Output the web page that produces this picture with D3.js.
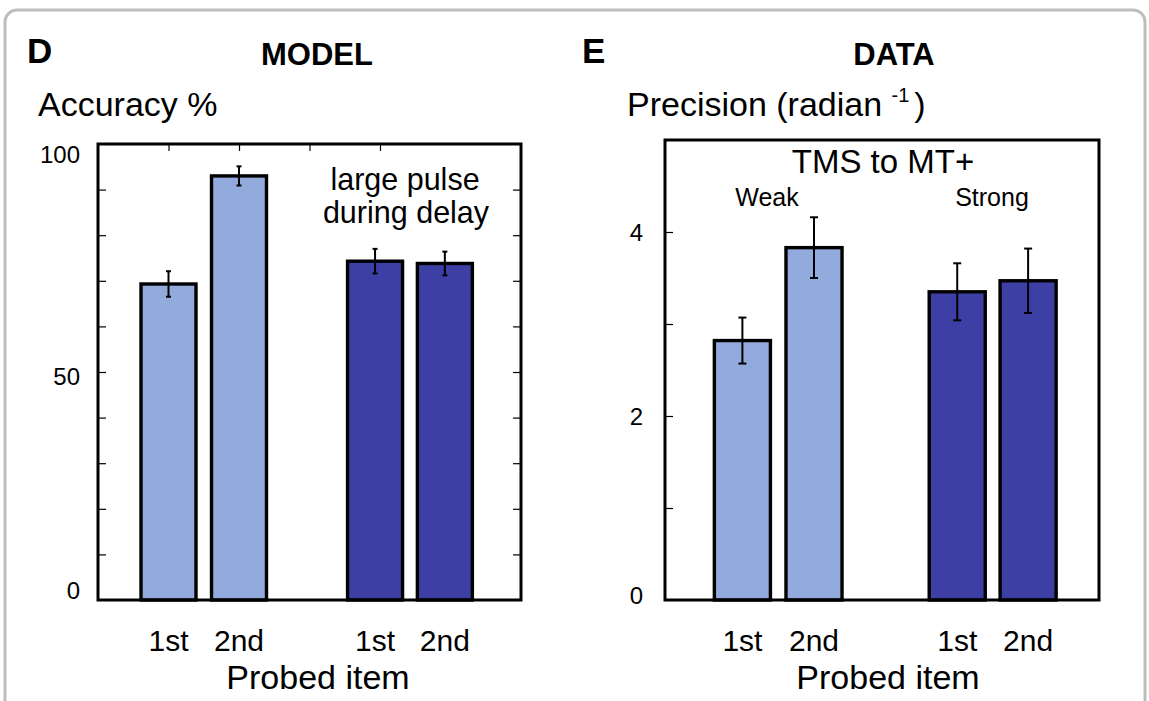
<!DOCTYPE html>
<html>
<head>
<meta charset="utf-8">
<script src="https://cdn.jsdelivr.net/npm/d3@7"></script>
<style>
  html, body { margin: 0; padding: 0; background: #fff; }
  svg { display: block; font-family: "Liberation Sans", Arial, Helvetica, sans-serif; }
</style>
</head>
<body>
<svg id="fig" width="1149" height="701"></svg>
<script>
// Panel D — model accuracy (%)
const modelLabels = ["1st", "2nd", "1st", "2nd"];
const modelPos = [1, 2, 3.93, 4.92];
const modelMean = [69.3, 93.0, 74.3, 73.8];
const modelErr = [2.8, 2.1, 2.7, 2.6];
const modelGroup = ["weak", "weak", "strong", "strong"];
const modelYTicks = [0, 50, 100];

// Panel E — data precision (radian^-1)
const dataLabels = ["1st", "2nd", "1st", "2nd"];
const dataPos = [1.07, 2.06, 4.04, 5.02];
const dataMean = [2.82, 3.83, 3.35, 3.47];
const dataErr = [0.25, 0.33, 0.31, 0.35];
const dataGroup = ["weak", "weak", "strong", "strong"];
const dataYTicks = [0, 2, 4];

const fill = { weak: "#93abdc", strong: "#3d3fa5" };

const svg = d3.select("#fig");

// rounded grey card outline, open at the bottom
const card = d3.path();
card.moveTo(5, 705);
card.lineTo(5, 22);
card.arcTo(5, 10, 17, 10, 12);
card.lineTo(1133, 10);
card.arcTo(1145, 10, 1145, 22, 12);
card.lineTo(1145, 705);
svg.append("path").attr("d", card.toString())
  .attr("fill", "none").attr("stroke", "#bdbdbd").attr("stroke-width", 3);

function drawPanel(cfg) {
  const x = d3.scaleLinear().domain([0, 6]).range([cfg.left, cfg.right]);
  const y = d3.scaleLinear().domain(cfg.yDomain).range([cfg.bottom, cfg.top]);
  const g = svg.append("g");
  const bw = x(cfg.barWidth) - x(0);

  // minor ticks inside the frame
  g.append("g").attr("transform", `translate(${cfg.left},0)`)
    .call(d3.axisRight(y).tickValues(cfg.minorTicks).tickSize(8).tickFormat(""))
    .call(s => s.select(".domain").remove())
    .selectAll("line").attr("stroke", "#000").attr("stroke-width", 1.2);
  if (cfg.rightTicks) {
    g.append("g").attr("transform", `translate(${cfg.right},0)`)
      .call(d3.axisLeft(y).tickValues(cfg.minorTicks).tickSize(8).tickFormat(""))
      .call(s => s.select(".domain").remove())
      .selectAll("line").attr("stroke", "#000").attr("stroke-width", 1.2);
  }
  if (cfg.topTicks) {
    g.append("g").attr("transform", `translate(0,${cfg.top})`)
      .call(d3.axisBottom(x).tickValues(cfg.topTicks).tickSize(7).tickFormat(""))
      .call(s => s.select(".domain").remove())
      .selectAll("line").attr("stroke", "#000").attr("stroke-width", 1.2);
  }

  // y tick labels
  g.selectAll("text.ylab").data(cfg.yTicks).join("text")
    .attr("class", "ylab")
    .attr("x", cfg.left - cfg.labelGap)
    .attr("y", d => y(d) + cfg.labelShift(d))
    .attr("text-anchor", "end").attr("dominant-baseline", "central")
    .attr("font-size", 24).text(d => d);

  // bars
  g.selectAll("rect.bar").data(cfg.mean).join("rect")
    .attr("class", "bar")
    .attr("x", (d, i) => x(cfg.pos[i]) - bw / 2)
    .attr("width", bw)
    .attr("y", d => y(d))
    .attr("height", d => y(0) - y(d))
    .attr("fill", (d, i) => fill[cfg.group[i]])
    .attr("stroke", "#000").attr("stroke-width", 3.4);

  // error bars
  const eb = g.selectAll("g.err").data(cfg.mean).join("g").attr("class", "err")
    .attr("stroke", "#000").attr("stroke-width", 2);
  eb.append("line")
    .attr("x1", (d, i) => x(cfg.pos[i])).attr("x2", (d, i) => x(cfg.pos[i]))
    .attr("y1", (d, i) => y(d + cfg.err[i])).attr("y2", (d, i) => y(d - cfg.err[i]));
  [1, -1].forEach(sgn => {
    eb.append("line")
      .attr("x1", (d, i) => x(cfg.pos[i]) - cfg.cap).attr("x2", (d, i) => x(cfg.pos[i]) + cfg.cap)
      .attr("y1", (d, i) => y(d + sgn * cfg.err[i])).attr("y2", (d, i) => y(d + sgn * cfg.err[i]));
  });

  // frame
  g.append("rect")
    .attr("x", cfg.left).attr("y", cfg.top)
    .attr("width", cfg.right - cfg.left).attr("height", cfg.bottom - cfg.top)
    .attr("fill", "none").attr("stroke", "#000").attr("stroke-width", 3);

  // category labels
  g.selectAll("text.cat").data(cfg.labels).join("text")
    .attr("class", "cat")
    .attr("x", (d, i) => x(cfg.pos[i]))
    .attr("y", 651)
    .attr("text-anchor", "middle").attr("font-size", 30).text(d => d);

  g.append("text")
    .attr("x", cfg.xTitleX).attr("y", 689)
    .attr("text-anchor", "middle").attr("font-size", 34).text("Probed item");

  return { x, y, g };
}

// Panel D
drawPanel({
  left: 98, right: 521, top: 144, bottom: 600,
  yDomain: [0, 100], yTicks: modelYTicks,
  minorTicks: d3.range(10, 100, 10), rightTicks: true, topTicks: [1, 2, 3, 4],
  labelGap: 18, labelShift: d => d === 0 ? -10 : d === 100 ? 10 : 4,
  barWidth: 0.78, cap: 2.5, xTitleX: 318,
  pos: modelPos, mean: modelMean, err: modelErr, group: modelGroup, labels: modelLabels
});

svg.append("text").attr("x", 27).attr("y", 63)
  .attr("font-size", 35).attr("font-weight", "bold").text("D");
svg.append("text").attr("x", 317).attr("y", 65).attr("text-anchor", "middle")
  .attr("font-size", 31).attr("font-weight", "bold").text("MODEL");
svg.append("text").attr("x", 38).attr("y", 116)
  .attr("font-size", 34).text("Accuracy %");
svg.append("text").attr("x", 405).attr("y", 190).attr("text-anchor", "middle")
  .attr("font-size", 30.5).text("large pulse");
svg.append("text").attr("x", 406).attr("y", 223).attr("text-anchor", "middle")
  .attr("font-size", 30.5).text("during delay");

// Panel E
drawPanel({
  left: 665, right: 1099, top: 140, bottom: 600,
  yDomain: [0, 5], yTicks: dataYTicks,
  minorTicks: [1, 2, 3, 4], rightTicks: false, topTicks: null,
  labelGap: 22, labelShift: d => d === 0 ? -5 : 0,
  barWidth: 0.775, cap: 4, xTitleX: 888,
  pos: dataPos, mean: dataMean, err: dataErr, group: dataGroup, labels: dataLabels
});

svg.append("text").attr("x", 582).attr("y", 63)
  .attr("font-size", 35).attr("font-weight", "bold").text("E");
svg.append("text").attr("x", 894).attr("y", 65).attr("text-anchor", "middle")
  .attr("font-size", 31).attr("font-weight", "bold").text("DATA");
const prec = svg.append("text").attr("x", 627).attr("y", 116).attr("font-size", 34);
prec.append("tspan").text("Precision (radian ");
prec.append("tspan").attr("font-size", 20).attr("dy", -14).text("-1");
prec.append("tspan").attr("dy", 14).attr("dx", 5).text(")");
svg.append("text").attr("x", 883).attr("y", 173).attr("text-anchor", "middle")
  .attr("font-size", 33).text("TMS to MT+");
svg.append("text").attr("x", 767).attr("y", 206).attr("text-anchor", "middle")
  .attr("font-size", 25).text("Weak");
svg.append("text").attr("x", 992).attr("y", 206).attr("text-anchor", "middle")
  .attr("font-size", 25).text("Strong");
</script>
</body>
</html>
